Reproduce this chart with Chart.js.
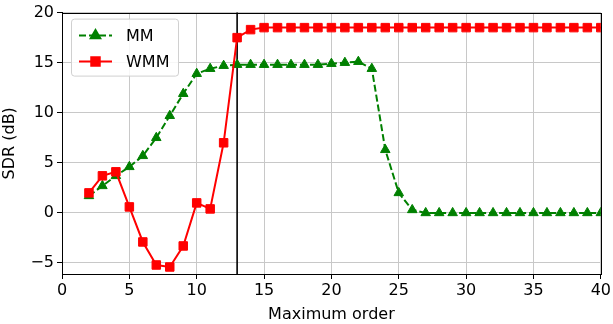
<!DOCTYPE html>
<html>
<head>
<meta charset="utf-8">
<script src="https://cdn.jsdelivr.net/npm/chart.js@4/dist/chart.umd.min.js"></script>
<style>
  html, body { margin: 0; padding: 0; background: #fff; }
  #wrap { width: 613px; height: 324px; }
</style>
</head>
<body>
<div id="wrap"><canvas id="c"></canvas></div>
<script>
// maximum order on the x axis
const orders = [2, 3, 4, 5, 6, 7, 8, 9, 10, 11, 12, 13, 14, 15, 16, 17, 18, 19, 20, 21,
  22, 23, 24, 25, 26, 27, 28, 29, 30, 31, 32, 33, 34, 35, 36, 37, 38, 39, 40];

// SDR (dB) per order
const mmSdr = [1.7, 2.7, 3.7, 4.6, 5.7, 7.5, 9.7, 11.9, 13.9, 14.4, 14.7, 14.8, 14.8, 14.8,
  14.8, 14.8, 14.8, 14.8, 14.9, 15.0, 15.1, 14.4, 6.3, 2.0, 0.3, 0.0, 0.0, 0.0, 0.0, 0.0,
  0.0, 0.0, 0.0, 0.0, 0.0, 0.0, 0.0, 0.0, 0.0];
const wmmSdr = [2.0, 3.7, 4.1, 0.6, -2.9, -5.2, -5.4, -3.3, 1.0, 0.4, 7.0, 17.5, 18.3, 18.5,
  18.5, 18.5, 18.5, 18.5, 18.5, 18.5, 18.5, 18.5, 18.5, 18.5, 18.5, 18.5, 18.5, 18.5, 18.5,
  18.5, 18.5, 18.5, 18.5, 18.5, 18.5, 18.5, 18.5, 18.5, 18.5];

const chosenOrder = 13;
const xTicks = [0, 5, 10, 15, 20, 25, 30, 35, 40];
const yTicks = [-5, 0, 5, 10, 15, 20];

const FONT = "'DejaVu Sans', sans-serif";
const GREEN = '#008000';
const RED = '#ff0000';

const pts = (ys) => orders.map((x, i) => ({ x: x, y: ys[i] }));

// black frame around the plot + matplotlib style legend box
const frameAndLegend = {
  id: 'frameAndLegend',
  afterDatasetsDraw(chart) {
    const { ctx, chartArea: a } = chart;
    ctx.save();
    ctx.strokeStyle = '#000';
    ctx.lineWidth = 1;
    ctx.strokeRect(Math.round(a.left) + 0.5, Math.round(a.top) + 0.5,
      Math.round(a.right - a.left), Math.round(a.bottom - a.top));

    // legend
    const bx = a.left + 9, by = a.top + 6, bw = 107, bh = 57;
    ctx.fillStyle = 'rgba(255,255,255,0.85)';
    ctx.strokeStyle = '#d0d0d0';
    ctx.beginPath();
    ctx.roundRect(bx + 0.5, by + 0.5, bw, bh, 3);
    ctx.fill();
    ctx.stroke();

    const entries = [
      { label: 'MM', color: GREEN, dash: [7, 3], style: 'triangle', r: 5.5 },
      { label: 'WMM', color: RED, dash: [], style: 'rect', r: 6 }
    ];
    entries.forEach((e, i) => {
      const y = by + 17 + i * 26;
      ctx.strokeStyle = e.color;
      ctx.lineWidth = 2;
      ctx.setLineDash(e.dash);
      ctx.beginPath();
      ctx.moveTo(bx + 8, y);
      ctx.lineTo(bx + 41, y);
      ctx.stroke();
      ctx.setLineDash([]);
      ctx.fillStyle = e.color;
      Chart.helpers.drawPoint(ctx, { pointStyle: e.style, radius: e.r, borderWidth: 1 },
        bx + 24.5, y);
      ctx.fillStyle = '#000';
      ctx.font = '16px ' + FONT;
      ctx.textBaseline = 'middle';
      ctx.fillText(e.label, bx + 55, y + 1);
    });
    ctx.restore();
  }
};

new Chart(document.getElementById('c'), {
  type: 'scatter',
  data: {
    datasets: [
      {
        label: 'MM',
        data: pts(mmSdr),
        showLine: true,
        borderColor: GREEN,
        backgroundColor: GREEN,
        borderWidth: 2,
        borderDash: [7, 3],
        pointStyle: 'triangle',
        pointRadius: 5.5,
        pointBorderWidth: 1,
        order: 2
      },
      {
        label: 'WMM',
        data: pts(wmmSdr),
        showLine: true,
        borderColor: RED,
        backgroundColor: RED,
        borderWidth: 2,
        pointStyle: 'rect',
        pointRadius: 6,
        pointBorderWidth: 1,
        order: 1
      },
      {
        label: 'chosen',
        data: [{ x: chosenOrder, y: -10 }, { x: chosenOrder, y: 30 }],
        showLine: true,
        borderColor: '#000',
        borderWidth: 1.6,
        pointRadius: 0,
        order: 3
      }
    ]
  },
  options: {
    responsive: true,
    maintainAspectRatio: false,
    animation: false,
    layout: { padding: { top: 12, right: 12, left: 0, bottom: 0 } },
    plugins: {
      legend: { display: false },
      tooltip: { enabled: false }
    },
    scales: {
      x: {
        type: 'linear',
        min: 0,
        max: 40,
        afterBuildTicks: (s) => { s.ticks = xTicks.map(v => ({ value: v })); },
        afterFit: (s) => { s.height = 50; },
        grid: { color: '#c8c8c8', lineWidth: 1, tickColor: '#000', tickLength: 5 },
        border: { color: '#000', width: 1 },
        ticks: { color: '#000', font: { family: FONT, size: 16 }, padding: 2, maxRotation: 0 },
        title: { display: true, text: 'Maximum order', color: '#000',
          font: { family: FONT, size: 16 }, padding: { top: 0, bottom: 0 } }
      },
      y: {
        type: 'linear',
        min: -6.1,
        max: 20,
        afterBuildTicks: (s) => { s.ticks = yTicks.map(v => ({ value: v })); },
        afterFit: (s) => { s.width = 62; },
        grid: { color: '#c8c8c8', lineWidth: 1, tickColor: '#000', tickLength: 5 },
        border: { color: '#000', width: 1 },
        ticks: { color: '#000', font: { family: FONT, size: 16 }, padding: 3,
          callback: (v) => (v < 0 ? '\u2212' + Math.abs(v) : String(v)) },
        title: { display: true, text: 'SDR (dB)', color: '#000',
          font: { family: FONT, size: 16 }, padding: { top: 0, bottom: 2 } }
      }
    }
  },
  plugins: [frameAndLegend]
});
</script>
</body>
</html>
